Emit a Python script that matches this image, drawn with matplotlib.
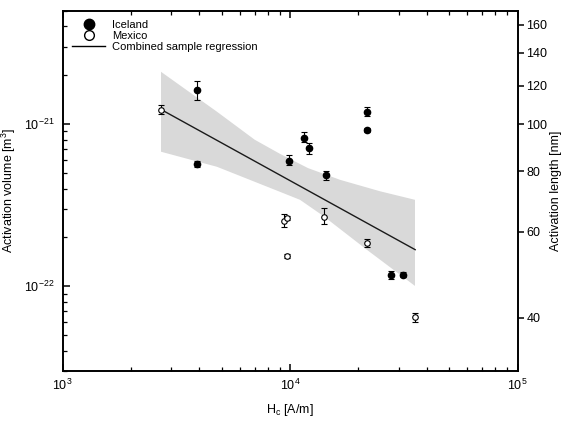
import numpy as np
import matplotlib
matplotlib.use("Agg")
import matplotlib.pyplot as plt
from matplotlib.lines import Line2D
from matplotlib.ticker import FixedLocator, NullLocator, FixedFormatter

plt.rcParams['font.family'] = ['Liberation Sans', 'DejaVu Sans']
plt.rcParams['mathtext.fontset'] = 'custom'
plt.rcParams['mathtext.rm'] = 'Liberation Sans'
plt.rcParams['mathtext.it'] = 'Liberation Sans:italic'
plt.rcParams['mathtext.bf'] = 'Liberation Sans:bold'

# ---- data ----
ice_x = [3890, 3890, 9870, 11520, 12080, 14350, 21740, 21740, 27730, 31480]
ice_y = [1.612e-21, 5.66e-22, 5.93e-22, 8.26e-22, 7.07e-22, 4.82e-22, 1.191e-21, 9.22e-22, 1.175e-22, 1.175e-22]
ice_lo = [1.413e-21, 5.42e-22, 5.61e-22, 7.70e-22, 6.56e-22, 4.53e-22, 1.114e-21, 8.96e-22, 1.105e-22, 1.134e-22]
ice_hi = [1.832e-21, 5.91e-22, 6.40e-22, 8.88e-22, 7.63e-22, 5.13e-22, 1.279e-21, 9.48e-22, 1.248e-22, 1.218e-22]

mex_x = [2710, 9440, 9730, 9670, 14150, 21740, 35550]
mex_y = [1.225e-21, 2.54e-22, 2.63e-22, 1.531e-22, 2.67e-22, 1.842e-22, 6.44e-23]
mex_lo = [1.158e-21, 2.31e-22, 2.56e-22, 1.49e-22, 2.42e-22, 1.741e-22, 6.05e-23]
mex_hi = [1.303e-21, 2.78e-22, 2.70e-22, 1.575e-22, 3.03e-22, 1.968e-22, 6.81e-23]

fit_x = [2710, 35500]
fit_y = [1.23e-21, 1.68e-22]

band_up_x = [2710, 4776, 7000, 9036, 12000, 16590, 24870, 35430]
band_up_y = [2.10e-21, 1.191e-21, 8.0e-22, 6.55e-22, 5.35e-22, 4.53e-22, 3.85e-22, 3.41e-22]
band_lo_x = [2710, 4776, 9036, 11066, 13960, 21790, 35430]
band_lo_y = [6.75e-22, 5.45e-22, 3.82e-22, 3.41e-22, 2.72e-22, 1.676e-22, 1.004e-22]

x_major = [1e3, 1e4, 1e5]
x_labels = [r'10$^{3}$', r'10$^{4}$', r'10$^{5}$']
y_major = [1e-22, 1e-21]
y_labels = [r'10$^{-22}$', r'10$^{-21}$']
len_ticks = [40, 60, 80, 100, 120, 140, 160]

# ---- figure ----
fig = plt.figure(figsize=(5.65, 4.3), dpi=100)
L, R, T, B = 62.5, 517.5, 10.7, 371.0
ax = fig.add_axes([L / 565, 1 - B / 430, (R - L) / 565, (B - T) / 430])
ax.set_xscale('log')
ax.set_yscale('log')
ax.set_xlim(1e3, 1e5)
ylim = (3e-23, 5e-21)
ax.set_ylim(*ylim)

ax2 = ax.twinx()
ax2.set_yscale('log')
ax2.set_ylim(np.cbrt(ylim[0]) * 1e9, np.cbrt(ylim[1]) * 1e9)

poly_x = list(band_up_x) + list(band_lo_x[::-1])
poly_y = list(band_up_y) + list(band_lo_y[::-1])
ax.fill(poly_x, poly_y, color='#d9d9d9', lw=0, zorder=1)

ax.plot(fit_x, fit_y, color='#1a1a1a', lw=1.0, zorder=2)

ice_err = [np.array(ice_y) - np.array(ice_lo), np.array(ice_hi) - np.array(ice_y)]
mex_err = [np.array(mex_y) - np.array(mex_lo), np.array(mex_hi) - np.array(mex_y)]
ax.errorbar(ice_x, ice_y, yerr=ice_err, fmt='o', ms=4.5, color='black', mfc='black',
            mec='black', ecolor='black', elinewidth=0.8, capsize=2.5, capthick=0.8, zorder=3)
ax.errorbar(mex_x, mex_y, yerr=mex_err, fmt='o', ms=4.0, color='black', mfc='white',
            mec='black', mew=0.8, ecolor='black', elinewidth=0.8, capsize=2.5, capthick=0.8, zorder=3)

# ticks for main axes
xminor = [m * 10.0 ** e for e in (3, 4) for m in range(2, 10)]
yminor = [m * 10.0 ** e for e in (-23, -22, -21) for m in range(2, 10)
          if ylim[0] <= m * 10.0 ** e <= ylim[1]]
ax.xaxis.set_major_locator(FixedLocator(x_major))
ax.xaxis.set_major_formatter(FixedFormatter(x_labels))
ax.xaxis.set_minor_locator(FixedLocator(xminor))
ax.yaxis.set_major_locator(FixedLocator(y_major))
ax.yaxis.set_major_formatter(FixedFormatter(y_labels))
ax.yaxis.set_minor_locator(FixedLocator(yminor))
ax.xaxis.set_tick_params(which='both', direction='in', top=True, bottom=True,
                         labelbottom=True, labeltop=False)
ax.yaxis.set_tick_params(which='both', direction='in', left=True, right=False,
                         labelleft=True, labelright=False)
ax.tick_params(axis='x', which='major', length=5, width=1.1, labelsize=9, pad=5, color='black')
ax.tick_params(axis='y', which='major', length=5, width=1.1, labelsize=9, pad=6, color='black')
ax.tick_params(axis='both', which='minor', length=3, width=0.9, color='black')

ax2.yaxis.set_major_locator(FixedLocator(len_ticks))
ax2.yaxis.set_major_formatter(FixedFormatter([str(v) for v in len_ticks]))
ax2.yaxis.set_minor_locator(NullLocator())
ax2.tick_params(axis='y', which='major', direction='out', length=4, width=1.1, labelsize=9, pad=2.5)

for a in (ax, ax2):
    for s in a.spines.values():
        s.set_linewidth(1.2)

fig.text(9 / 565, 1 - 190.8 / 430, r'Activation volume [m$^{3}$]', rotation=90,
         ha='center', va='center', fontsize=9)
fig.text(556 / 565, 1 - 190.8 / 430, 'Activation length [nm]', rotation=90,
         ha='center', va='center', fontsize=9)
fig.text(290 / 565, 1 - 410 / 430, r'H$_{\mathrm{c}}$ [A/m]', ha='center', va='center', fontsize=9)

handles = [
    Line2D([], [], marker='o', ls='none', ms=7.5, mfc='black', mec='black'),
    Line2D([], [], marker='o', ls='none', ms=7, mfc='white', mec='black', mew=1.0),
    Line2D([], [], color='black', lw=1.0),
]
labels = ['Iceland', 'Mexico', 'Combined sample regression']
ax.legend(handles, labels, loc='upper left',
          bbox_to_anchor=((72 - L) / (R - L), 1 - (20 - T) / (B - T)),
          frameon=False, borderpad=0, borderaxespad=0, fontsize=8,
          handlelength=3.0, handletextpad=0.6, labelspacing=0.1)

fig.savefig('out.png', dpi=100)
